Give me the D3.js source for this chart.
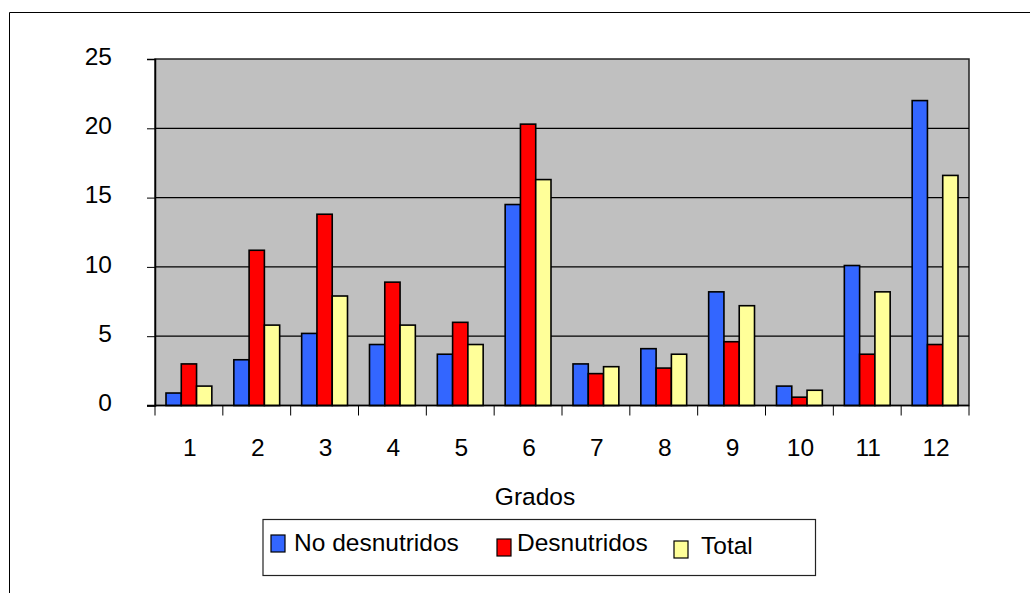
<!DOCTYPE html>
<html lang="es">
<head>
<meta charset="UTF-8">
<title>Grados</title>
<script src="https://d3js.org/d3.v7.min.js"></script>
<style>
  body { margin: 0; background: #fff; }
  text { font-family: "Liberation Sans", Arial, sans-serif; fill: #000; }
</style>
</head>
<body>
<svg width="1030" height="593"></svg>
<script>
// data
var grados = ["1", "2", "3", "4", "5", "6", "7", "8", "9", "10", "11", "12"];
var noDesnutridos = [0.9, 3.3, 5.2, 4.4, 3.7, 14.5, 3.0, 4.1, 8.2, 1.4, 10.1, 22.0];
var desnutridos = [3.0, 11.2, 13.8, 8.9, 6.0, 20.3, 2.3, 2.7, 4.6, 0.6, 3.7, 4.4];
var total = [1.4, 5.8, 7.9, 5.8, 4.4, 16.3, 2.8, 3.7, 7.2, 1.1, 8.2, 16.6];
var yTicks = [0, 5, 10, 15, 20, 25];

var series = [
  { name: "No desnutridos", values: noDesnutridos, color: "#3366ff" },
  { name: "Desnutridos", values: desnutridos, color: "#ff0000" },
  { name: "Total", values: total, color: "#ffff99" }
];

var svg = d3.select("svg");
var fs = "24.5px";

// outer chart frame (right and bottom run off the picture)
svg.append("path")
  .attr("d", "M9.5,593 V12.5 H1030")
  .attr("fill", "none")
  .attr("stroke", "#000")
  .attr("stroke-width", 1);

var pLeft = 155, pRight = 969, pTop = 59, pBottom = 405.5;

var x = d3.scaleBand().domain(grados).range([pLeft, pRight]);
var xs = d3.scaleBand().domain(series.map(d => d.name))
  .range([0, x.bandwidth()]).paddingInner(0).paddingOuter(0.72);
var y = d3.scaleLinear().domain([0, 25]).range([pBottom, pTop]);

// plot area
svg.append("rect")
  .attr("x", pLeft).attr("y", pTop)
  .attr("width", pRight - pLeft).attr("height", pBottom - pTop)
  .attr("fill", "#c0c0c0")
  .attr("stroke", "#222").attr("stroke-width", 1.5);

// gridlines
svg.append("g")
  .selectAll("line")
  .data(yTicks.filter(d => d > 0 && d < 25))
  .join("line")
  .attr("x1", pLeft).attr("x2", pRight)
  .attr("y1", d => y(d)).attr("y2", d => y(d))
  .attr("stroke", "#000").attr("stroke-width", 1.2);

// bars
svg.append("g")
  .selectAll("g")
  .data(series)
  .join("g")
  .attr("fill", d => d.color)
  .selectAll("rect")
  .data(d => d.values.map((v, i) => ({ s: d.name, g: grados[i], v: v })))
  .join("rect")
  .attr("x", d => x(d.g) + xs(d.s))
  .attr("y", d => y(d.v))
  .attr("width", xs.bandwidth())
  .attr("height", d => y(0) - y(d.v))
  .attr("stroke", "#000")
  .attr("stroke-width", 1.6);

// y axis
var yAxis = svg.append("g")
  .attr("transform", "translate(" + pLeft + ",0)")
  .call(d3.axisLeft(y).tickValues(yTicks).tickSize(8).tickPadding(35));
yAxis.select(".domain").attr("stroke", "#000").attr("stroke-width", 1.5);
yAxis.selectAll(".tick line").attr("stroke", "#000");
yAxis.selectAll(".tick text")
  .style("font-family", "Liberation Sans, Arial, sans-serif")
  .style("font-size", fs)
  .attr("dy", "0.22em");

// x axis: ticks between categories
var xa = svg.append("g");
xa.append("line")
  .attr("x1", pLeft - 8).attr("x2", pRight)
  .attr("y1", pBottom).attr("y2", pBottom)
  .attr("stroke", "#000").attr("stroke-width", 1.5);
xa.selectAll("line.tk")
  .data(grados.concat(["end"]))
  .join("line")
  .classed("tk", true)
  .attr("x1", (d, i) => i < grados.length ? x(d) : pRight)
  .attr("x2", (d, i) => i < grados.length ? x(d) : pRight)
  .attr("y1", pBottom).attr("y2", pBottom + 10)
  .attr("stroke", "#000").attr("stroke-width", 1);
xa.selectAll("text")
  .data(grados)
  .join("text")
  .attr("x", d => x(d) + x.bandwidth() / 2 + 1)
  .attr("y", 456)
  .attr("text-anchor", "middle")
  .style("font-size", fs)
  .text(d => d);

// axis title
svg.append("text")
  .attr("x", 535).attr("y", 505)
  .attr("text-anchor", "middle")
  .style("font-size", fs)
  .text("Grados");

// legend
var lg = svg.append("g");
lg.append("rect")
  .attr("x", 263).attr("y", 519.5)
  .attr("width", 552.5).attr("height", 56)
  .attr("fill", "#fff")
  .attr("stroke", "#222").attr("stroke-width", 1.2);

var legendPos = [
  { bx: 271, by: 535, tx: 294, ty: 551 },
  { bx: 497, by: 539, tx: 517, ty: 551 },
  { bx: 674, by: 541, tx: 701, ty: 554 }
];
lg.selectAll("rect.key")
  .data(series)
  .join("rect")
  .classed("key", true)
  .attr("x", (d, i) => legendPos[i].bx)
  .attr("y", (d, i) => legendPos[i].by)
  .attr("width", 14).attr("height", 17)
  .attr("fill", d => d.color)
  .attr("stroke", "#000").attr("stroke-width", 1.2);
lg.selectAll("text")
  .data(series)
  .join("text")
  .attr("x", (d, i) => legendPos[i].tx)
  .attr("y", (d, i) => legendPos[i].ty)
  .style("font-size", fs)
  .text(d => d.name);
</script>
</body>
</html>
